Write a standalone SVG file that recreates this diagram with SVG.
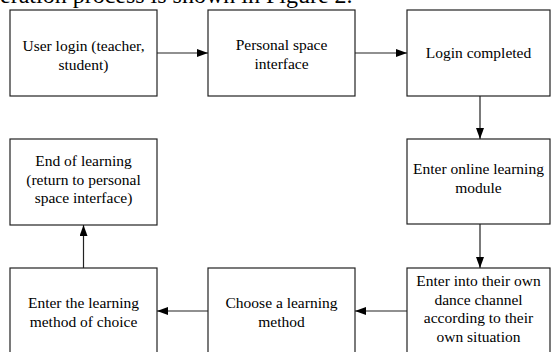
<svg xmlns="http://www.w3.org/2000/svg" width="551" height="352" viewBox="0 0 551 352">
  <defs>
    <marker id="arrow" viewBox="0 0 11 8" refX="11" refY="4" markerWidth="11" markerHeight="8" markerUnits="userSpaceOnUse" orient="auto">
      <path d="M0,0 L11,4 L0,8 Z" fill="#000"/>
    </marker>
    <style>
      .box { fill: #fff; stroke: #222; stroke-width: 1.2; }
      .lbl { font-family: "Liberation Serif", "Times New Roman", serif; font-size: 15.5px; fill: #000; text-anchor: middle; }
      .head { font-family: "Liberation Serif", "Times New Roman", serif; font-size: 24px; fill: #000; }
      .edge { fill: none; stroke: #222; stroke-width: 1.2; marker-end: url(#arrow); }
    </style>
  </defs>
  <rect width="551" height="352" fill="#fff"/>

  <!-- running text line above the flowchart -->
  <text class="head" x="0" y="2.5">eration process is shown in Figure 2.</text>

  <g id="user-login">
    <rect class="box" x="10" y="10" width="147" height="86"/>
    <text class="lbl" x="83.5" y="51">User login (teacher,</text>
    <text class="lbl" x="83.5" y="69.5">student)</text>
  </g>

  <g id="personal-space">
    <rect class="box" x="208" y="10" width="147" height="86"/>
    <text class="lbl" x="281.5" y="50">Personal space</text>
    <text class="lbl" x="281.5" y="68.5">interface</text>
  </g>

  <g id="login-completed">
    <rect class="box" x="407" y="10" width="143" height="86"/>
    <text class="lbl" x="478.5" y="58">Login completed</text>
  </g>

  <g id="online-module">
    <rect class="box" x="407" y="139" width="143" height="85"/>
    <text class="lbl" x="478.5" y="174">Enter online learning</text>
    <text class="lbl" x="478.5" y="192.5">module</text>
  </g>

  <g id="dance-channel">
    <rect class="box" x="407" y="268" width="143" height="86"/>
    <text class="lbl" x="478.5" y="286">Enter into their own</text>
    <text class="lbl" x="478.5" y="304.5">dance channel</text>
    <text class="lbl" x="478.5" y="323">according to their</text>
    <text class="lbl" x="478.5" y="341.5">own situation</text>
  </g>

  <g id="choose-method">
    <rect class="box" x="208" y="268" width="147" height="86"/>
    <text class="lbl" x="281.5" y="308">Choose a learning</text>
    <text class="lbl" x="281.5" y="326.5">method</text>
  </g>

  <g id="enter-method">
    <rect class="box" x="10" y="268" width="147" height="86"/>
    <text class="lbl" x="83.5" y="308">Enter the learning</text>
    <text class="lbl" x="83.5" y="326.5">method of choice</text>
  </g>

  <g id="end-of-learning">
    <rect class="box" x="10" y="139" width="147" height="86"/>
    <text class="lbl" x="83.5" y="166">End of learning</text>
    <text class="lbl" x="83.5" y="184.5">(return to personal</text>
    <text class="lbl" x="83.5" y="203">space interface)</text>
  </g>

  <g id="connectors">
    <line class="edge" x1="157" y1="53" x2="208" y2="53"/>
    <line class="edge" x1="355" y1="53" x2="407" y2="53"/>
    <line class="edge" x1="480" y1="96" x2="480" y2="139"/>
    <line class="edge" x1="480" y1="224" x2="480" y2="268"/>
    <line class="edge" x1="407" y1="311" x2="355" y2="311"/>
    <line class="edge" x1="208" y1="311" x2="157" y2="311"/>
    <line class="edge" x1="83.5" y1="268" x2="83.5" y2="225"/>
  </g>
</svg>
